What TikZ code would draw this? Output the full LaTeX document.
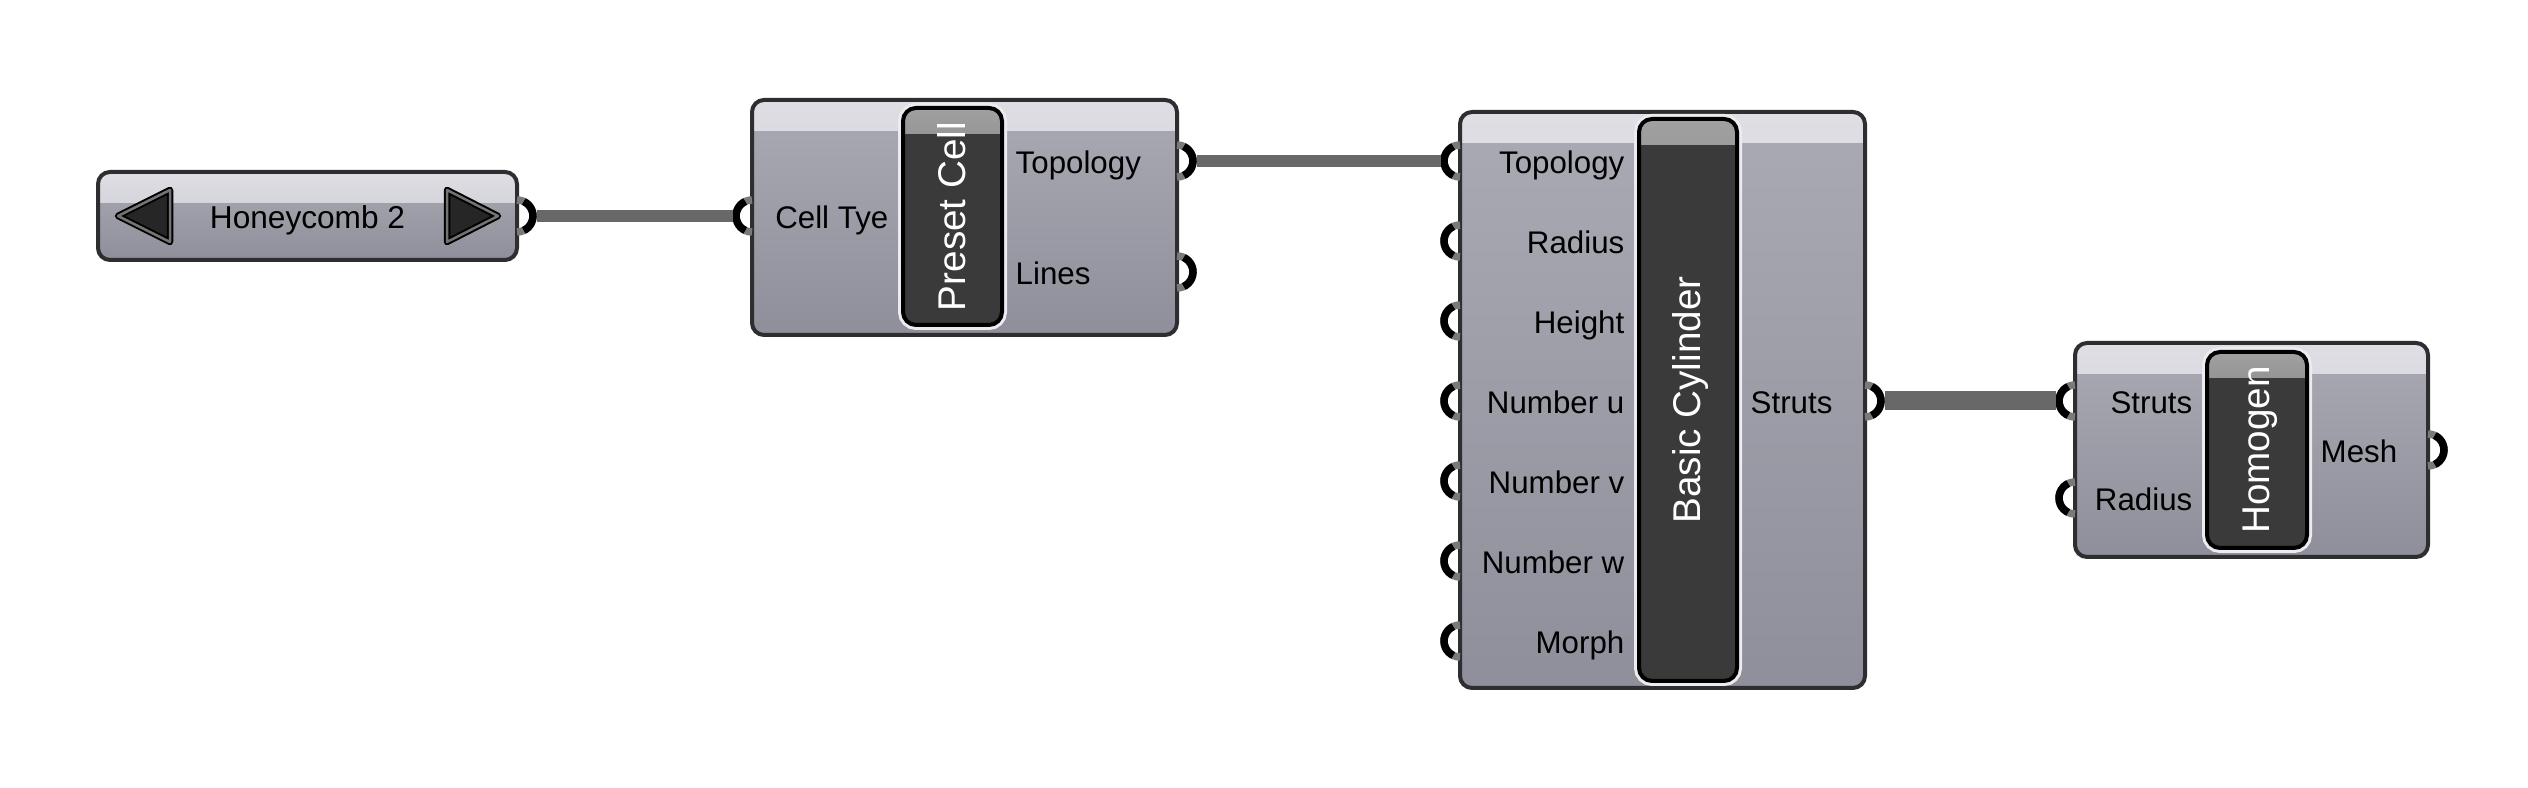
\documentclass[tikz,border=0pt]{standalone}
\usepackage{fontspec}
\setmainfont{Liberation Sans}
\usepackage{xcolor}
\definecolor{boxedge}{RGB}{46,46,48}
\definecolor{headtop}{RGB}{222,222,228}
\definecolor{headbot}{RGB}{196,196,204}
\definecolor{bodytop}{RGB}{170,170,180}
\definecolor{bodybot}{RGB}{143,143,155}
\definecolor{bardark}{RGB}{58,58,58}
\definecolor{barhi}{RGB}{160,160,160}
\definecolor{barmid}{RGB}{80,80,80}
\definecolor{barglow}{RGB}{236,236,240}
\definecolor{wiregrey}{RGB}{104,104,104}
\definecolor{stubgrey}{RGB}{122,122,122}
\usepackage{tikz}
\newcommand{\labelfont}{\fontsize{8.9}{10}\selectfont}
\newcommand{\namefont}{\fontsize{11}{13}\selectfont}
\newcommand{\sliderfont}{\fontsize{9}{11}\selectfont}
\newcommand{\ringradius}{16}
\tikzset{
    component/.style={draw=boxedge, line width=0.4mm, rounded corners=1.2mm, outer sep=0pt,
        top color=bodytop, bottom color=bodybot, inner sep=0pt, text height=0.72em, text depth=0pt,
        path picture={
            \shade[sharp corners, top color=headtop, bottom color=headbot]
                (path picture bounding box.north west) rectangle ([yshift=-3.1mm]path picture bounding box.north east);
        }
    },
    bar/.style={draw=black, line width=0.4mm, fill=bardark, rounded corners=1.3mm,
        preaction={draw=barglow, line width=1mm},
        path picture={
            \shade[sharp corners, top color=barhi, bottom color=barmid]
                (path picture bounding box.north west) rectangle ([yshift=-2.6mm]path picture bounding box.north east);
        }
    },
    bartext/.style={text=white, font=\namefont, rotate=90, inner sep=0pt, text height=0.72em, text depth=0pt},
    portlabel/.style={font=\labelfont, inner sep=0pt, text height=0.72em, text depth=0pt},
    portring/.style={draw=black, line width=0.75mm},
    portstub/.style={draw=stubgrey, line width=0.75mm},
    wire/.style={draw=wiregrey, line width=1.2mm, shorten <=1.95mm, shorten >=1.95mm},
    slidearrow/.style={fill=black!85, draw=black, double=black!55, double distance=0.25mm,
        line width=0.2mm, line join=round}
}
% rings of the grips, left and right of a box edge
\newcommand{\ringleft}[1]{%
    \draw[portstub] (#1) ++(90:\ringradius) arc (90:270:\ringradius);
    \draw[portring] (#1) ++(115:\ringradius) arc (115:245:\ringradius);}
\newcommand{\ringright}[1]{%
    \draw[portstub] (#1) ++(90:\ringradius) arc (90:-90:\ringradius);
    \draw[portring] (#1) ++(65:\ringradius) arc (65:-65:\ringradius);}
% #1 component, #2 port, #3 height, #4 text
\newcommand{\inport}[4]{%
    \coordinate (#1-#2) at (#1.west |- 0,#3);
    \ringleft{#1-#2}
    \node[portlabel, anchor=east, xshift=-1.2mm] (#1-#2-label) at (#1-bar.west |- 0,#3) {#4};}
\newcommand{\outport}[4]{%
    \coordinate (#1-#2) at (#1.east |- 0,#3);
    \ringright{#1-#2}
    \node[portlabel, anchor=west, xshift=1.1mm] (#1-#2-label) at (#1-bar.east |- 0,#3) {#4};}

\begin{document}
\begin{tikzpicture}[x=0.1mm, y=0.1mm]
    \useasboundingbox (0,0) rectangle (2528,788);

    % number slider
    \node[component, font=\sliderfont, minimum width=41.9mm, minimum height=8.8mm] (slider) at (307.5,572) {Honeycomb 2};
    \draw[slidearrow] ([xshift=2mm]slider.west) -- ++(52,26) -- ++(0,-52) -- cycle;
    \draw[slidearrow] ([xshift=-1.9mm]slider.east) -- ++(-51,26) -- ++(0,-52) -- cycle;
    \coordinate (slider-out) at (slider.east);
    \ringright{slider-out}

    % preset cell
    \node[component, minimum width=42.5mm, minimum height=23.5mm] (cell) at (964.5,570.5) {};
    \node[bar, minimum width=9.9mm, minimum height=21.7mm] (cell-bar) at (952.5,571.5) {};
    \node[bartext] (cell-name) at (cell-bar) {Preset Cell};
    \inport{cell}{type}{572}{Cell Tye}
    \outport{cell}{topology}{627}{Topology}
    \outport{cell}{lines}{516}{Lines}

    % basic cylinder
    \node[component, minimum width=40.5mm, minimum height=57.6mm] (cyl) at (1662.5,388) {};
    \node[bar, minimum width=9.8mm, minimum height=56.2mm] (cyl-bar) at (1688,388) {};
    \node[bartext] (cyl-name) at (cyl-bar) {Basic Cylinder};
    \inport{cyl}{topology}{627}{Topology}
    \inport{cyl}{radius}{547}{Radius}
    \inport{cyl}{height}{467}{Height}
    \inport{cyl}{numu}{387}{Number u}
    \inport{cyl}{numv}{307}{Number v}
    \inport{cyl}{numw}{227}{Number w}
    \inport{cyl}{morph}{147}{Morph}
    \outport{cyl}{struts}{387}{Struts}

    % homogen
    \node[component, minimum width=35.3mm, minimum height=21.4mm] (hom) at (2251.5,338) {};
    \node[bar, minimum width=10mm, minimum height=19.6mm] (hom-bar) at (2257,338) {};
    \node[bartext] (hom-name) at (hom-bar) {Homogen};
    \inport{hom}{struts}{387}{Struts}
    \inport{hom}{radius}{290}{Radius}
    \outport{hom}{mesh}{338}{Mesh}

    % wires
    \draw[wire] (slider-out) -- (cell-type);
    \draw[wire] (cell-topology) -- (cyl-topology);
    \draw[wire, line width=1.9mm] (cyl-struts) -- (hom-struts);
\end{tikzpicture}
\end{document}
